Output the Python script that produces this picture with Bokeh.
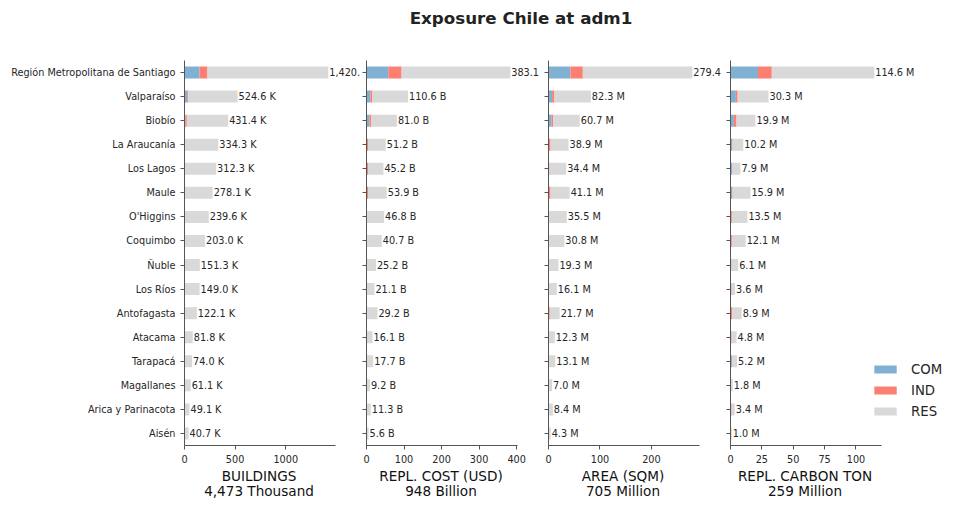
from bokeh.core.properties import value
from bokeh.embed import file_html
from bokeh.layouts import column, row
from bokeh.models import (ColumnDataSource, CustomJSTickFormatter, Div,
                          FactorRange, FixedTicker, LabelSet, Legend,
                          LegendItem, Range1d, Spacer)
from bokeh.plotting import figure
from bokeh.resources import INLINE

regions = ["Región Metropolitana de Santiago", "Valparaíso", "Biobío",
           "La Araucanía", "Los Lagos", "Maule", "O'Higgins", "Coquimbo",
           "Ñuble", "Los Ríos", "Antofagasta", "Atacama", "Tarapacá",
           "Magallanes", "Arica y Parinacota", "Aisén"]

# buildings, thousands
bld_total = [1420.7, 524.6, 431.4, 334.3, 312.3, 278.1, 239.6, 203.0,
             151.3, 149.0, 122.1, 81.8, 74.0, 61.1, 49.1, 40.7]
bld_com = [148, 27, 8, 1, 1, 1, 0.5, 0.5, 0.5, 0.3, 0.5, 0.3, 0.3, 0.2, 0.2, 0.1]
bld_ind = [79, 8, 15, 8, 8, 8, 1, 1, 0.5, 0.5, 1, 0.5, 0.5, 0.3, 0.3, 0.2]

# replacement cost, billion USD
cost_total = [383.1, 110.6, 81.0, 51.2, 45.2, 53.9, 46.8, 40.7,
              25.2, 21.1, 29.2, 16.1, 17.7, 9.2, 11.3, 5.6]
cost_com = [58, 10.7, 8, 1, 1, 1, 0.5, 0.5, 0.3, 0.3, 0.5, 0.2, 0.3, 0.1, 0.1, 0.05]
cost_ind = [35.5, 5, 5, 3, 4, 3, 1.5, 1.5, 0.5, 0.5, 1.5, 0.5, 0.5, 0.2, 0.3, 0.1]

# area, million sqm
area_total = [279.4, 82.3, 60.7, 38.9, 34.4, 41.1, 35.5, 30.8,
              19.3, 16.1, 21.7, 12.3, 13.1, 7.0, 8.4, 4.3]
area_com = [42.7, 7, 6, 1, 0.5, 0.5, 0.5, 0.5, 0.3, 0.3, 0.5, 0.2, 0.3, 0.1, 0.1, 0.05]
area_ind = [24, 4.5, 3, 3, 1.5, 3.5, 1, 1, 0.5, 0.3, 2, 0.4, 0.4, 0.2, 0.3, 0.1]

# replacement carbon, million ton
carb_total = [114.6, 30.3, 19.9, 10.2, 7.9, 15.9, 13.5, 12.1,
              6.1, 3.6, 8.9, 4.8, 5.2, 1.8, 3.4, 1.0]
carb_com = [21.9, 4.3, 2.7, 1.2, 1.2, 1.3, 0.3, 0.3, 0.8, 0.1, 0.3, 0.1, 1.1, 0.1, 0.1, 0.05]
carb_ind = [11.0, 1.4, 2.1, 0.4, 0.3, 0.4, 0.8, 0.8, 0.1, 0.8, 1.2, 0.8, 0.1, 0.1, 0.8, 0.05]

panels = [
    (["BUILDINGS", "4,473 Thousand"], bld_total, bld_com, bld_ind, "K", [0, 500, 1000]),
    (["REPL. COST (USD)", "948 Billion"], cost_total, cost_com, cost_ind, "B", [0, 100, 200, 300, 400]),
    (["AREA (SQM)", "705 Million"], area_total, area_com, area_ind, "M", [0, 100, 200]),
    (["REPL. CARBON TON", "259 Million"], carb_total, carb_com, carb_ind, "M", [0, 25, 50, 75, 100]),
]

classes = ["COM", "IND", "RES"]
colors = ["#80b1d3", "#fb8072", "#d9d9d9"]
FONT = "DejaVu Sans"
TXT = "#262626"
AXC = "#555555"

AXIS_W = 151      # visible axis length of each panel
FRAME_W = [176, 176, 176, 220]   # frame runs on to the next panel so labels show

figs = []
captions = [Spacer(width=168, height=40, margin=0)]
for i, (label, total, com, ind, unit, ticks) in enumerate(panels):
    res = [t - c - d for t, c, d in zip(total, com, ind)]
    src = ColumnDataSource(dict(region=regions, COM=com, IND=ind, RES=res,
                                total=total,
                                text=[f"{t:,.1f} {unit}" for t in total]))
    first, last = i == 0, i == len(panels) - 1
    xmax = max(total) * 1.05
    p = figure(y_range=FactorRange(*regions[::-1]),
               x_range=Range1d(0, xmax * FRAME_W[i] / AXIS_W),
               frame_width=FRAME_W[i], frame_height=385,
               min_border_left=184 if first else 6, min_border_right=0,
               min_border_top=24, min_border_bottom=20,
               output_backend="svg", toolbar_location=None)
    p.outline_line_color = None
    p.grid.grid_line_color = None

    bars = p.hbar_stack(classes, y="region", height=0.5, fill_color=colors,
                        line_color=None, source=src)
    p.add_layout(LabelSet(x="total", y="region", text="text", source=src,
                          x_offset=1, text_baseline="middle",
                          text_font_size="9.7px", text_font=value(FONT),
                          text_color=TXT))

    for ax in (p.xaxis, p.yaxis):
        ax.axis_line_color = AXC
        ax.major_tick_line_color = AXC
        ax.major_tick_out = 4
        ax.major_tick_in = 0
        ax.minor_tick_line_color = None
        ax.major_label_text_font = FONT
        ax.major_label_text_font_size = "9.7px"
        ax.major_label_text_color = TXT
    p.xaxis.bounds = (0, xmax)
    p.xaxis.ticker = FixedTicker(ticks=ticks)
    p.xaxis.major_label_standoff = 5
    if first:
        p.yaxis.major_label_standoff = 5
    else:
        # region names only on the first panel
        p.yaxis.formatter = CustomJSTickFormatter(code="return ''")
        p.yaxis.major_label_standoff = 0

    if last:
        legend = Legend(items=[LegendItem(label=c, renderers=[r])
                               for c, r in zip(classes, bars)],
                        location=(141, 25), glyph_width=28, glyph_height=10,
                        label_height=18, spacing=3, padding=0, margin=0,
                        label_standoff=12, border_line_color=None,
                        background_fill_alpha=0, label_text_font=FONT,
                        label_text_font_size="13.3px", label_text_color=TXT)
        p.add_layout(legend, "center")
    figs.append(p)

    # two-line caption centred under the visible axis
    captions.append(Div(
        text='<div style="width:182px;text-align:center;font-family:DejaVu Sans;'
             'font-size:13.6px;line-height:15px;color:#111111;padding-top:4px">'
             + "<br>".join(label) + "</div>",
        width=182, height=40, margin=0))

title = Div(text='<div style="width:874px;margin-left:84px;text-align:center;'
                 'font-family:DejaVu Sans;font-weight:bold;font-size:16.7px;'
                 'color:#222222;line-height:20px;padding-top:8px">'
                 'Exposure Chile at adm1</div>',
            width=958, height=36, margin=0)

layout = column(title, row(*figs), row(*captions))
open("out.html", "w").write(file_html(layout, INLINE))
